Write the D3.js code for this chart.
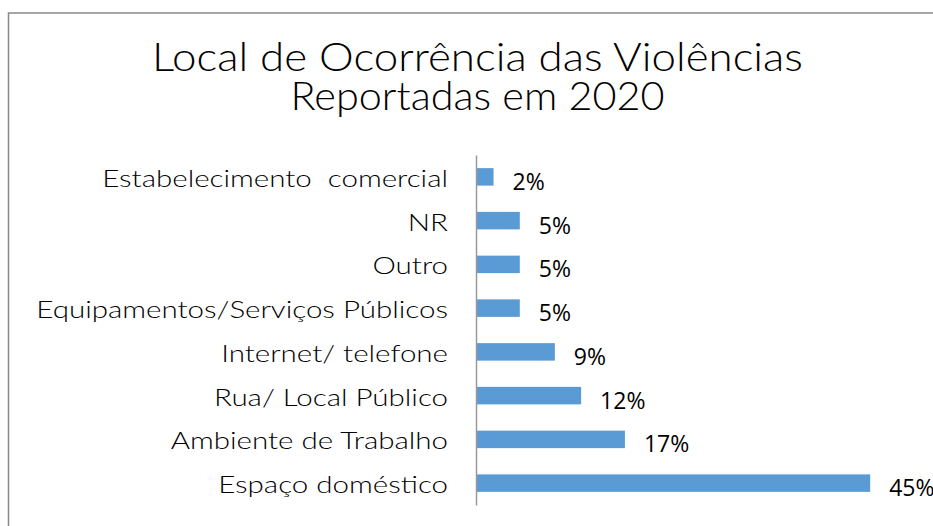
<!DOCTYPE html>
<html>
<head>
<meta charset="utf-8">
<script src="https://cdn.jsdelivr.net/npm/d3@7"></script>
<style>
  body { margin: 0; background: #fff; }
</style>
</head>
<body>
<div id="chart"></div>
<script>
// Data
var categories = ["Estabelecimento  comercial", "NR", "Outro", "Equipamentos/Serviços Públicos",
	"Internet/ telefone", "Rua/ Local Público", "Ambiente de Trabalho", "Espaço doméstico"];
var values = [2, 5, 5, 5, 9, 12, 17, 45];
var titleLines = ["Local de Ocorrência das Violências", "Reportadas em 2020"];

var width = 933, height = 526;

var svg = d3.select("#chart")
	.append("svg")
	.attr("width", width)
	.attr("height", height);

// Outer chart border (runs off the right and bottom edges)
svg.append("rect")
	.attr("x", 8.5)
	.attr("y", 13)
	.attr("width", 1000)
	.attr("height", 1000)
	.attr("fill", "none")
	.attr("stroke", "#898989")
	.attr("stroke-width", 1.5);

// Title
var titleWidths = [651, 374];
svg.selectAll(".title")
	.data(titleLines)
	.enter()
	.append("text")
	.attr("class", "title")
	.attr("x", 477.5)
	.attr("y", function(d, i) { return 71 + i * 39; })
	.attr("text-anchor", "middle")
	.style("font-family", "Lato, sans-serif")
	.style("font-weight", 300)
	.style("font-size", "40px")
	.attr("fill", "#000")
	.attr("textLength", function(d, i) { return titleWidths[i]; })
	.attr("lengthAdjust", "spacingAndGlyphs")
	.text(function(d) { return d; });

// Scales
var y = d3.scaleBand()
	.domain(categories)
	.range([155, 505])
	.paddingInner(0.6)
	.paddingOuter(0.3);

var x = d3.scaleLinear()
	.domain([0, 50])
	.range([476, 914]);

// Bars
svg.append("g")
	.selectAll("rect")
	.data(values)
	.enter()
	.append("rect")
	.attr("x", x(0))
	.attr("y", function(d, i) { return y(categories[i]); })
	.attr("width", function(d) { return x(d) - x(0); })
	.attr("height", y.bandwidth())
	.attr("fill", "#5B9BD5");

// Category axis (line only, no ticks)
var yAxis = svg.append("g")
	.attr("transform", "translate(" + x(0) + ",0)")
	.call(d3.axisLeft(y).tickSize(0).tickPadding(28));
yAxis.select(".domain")
	.attr("stroke", "#9a9a9a")
	.attr("stroke-width", 1.5);
yAxis.selectAll("text")
	.style("font-family", "Lato, sans-serif")
	.style("font-weight", 300)
	.style("font-size", "24px")
	.style("white-space", "pre")
	.attr("fill", "#000")
	.attr("dy", "0.42em")
	.each(function() {
		// widen to mimic the original geometric font
		var len = this.getComputedTextLength();
		d3.select(this).attr("textLength", len * 1.23).attr("lengthAdjust", "spacingAndGlyphs");
	});

// Value labels
svg.append("g")
	.selectAll("text")
	.data(values)
	.enter()
	.append("text")
	.attr("x", function(d) { return x(d) + 19; })
	.attr("y", function(d, i) { return y(categories[i]) + y.bandwidth() / 2 + 13; })
	.style("font-family", "'Open Sans', sans-serif")
	.style("font-size", "23px")
	.attr("fill", "#000")
	.text(function(d) { return d + "%"; });
</script>
</body>
</html>
